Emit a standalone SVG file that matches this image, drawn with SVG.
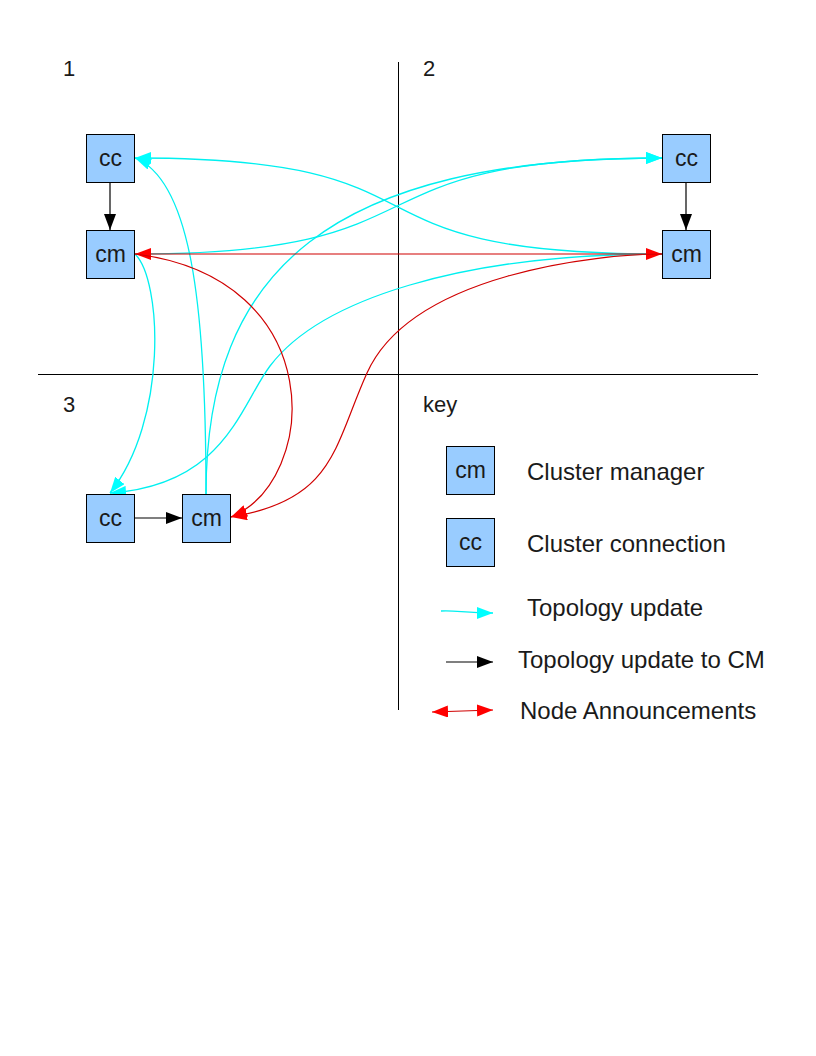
<svg xmlns="http://www.w3.org/2000/svg" width="816" height="1056" viewBox="0 0 816 1056">
<style>
.box{fill:#99ccff;stroke:#000;stroke-width:1}
.bt{font-family:"Liberation Sans",Arial,sans-serif;font-size:23px;fill:#1a1a1a;text-anchor:middle}
.lbl{font-family:"Liberation Sans",Arial,sans-serif;font-size:22px;fill:#1a1a1a}
.key{font-family:"Liberation Sans",Arial,sans-serif;font-size:24px;fill:#1a1a1a}
.cy{fill:none;stroke:#00f0f0;stroke-width:1.3;marker-end:url(#ac)}
.rd{fill:none;stroke:#d00000;stroke-width:1.2;marker-end:url(#ar)}
.bk{fill:none;stroke:#000;stroke-width:1.2;marker-end:url(#ab)}
.axis{stroke:#000;stroke-width:1}
</style>
<defs>
<marker id="ac" markerUnits="userSpaceOnUse" markerWidth="16" markerHeight="12" refX="16" refY="6" orient="auto"><path d="M0,0 L16,6 L0,12 z" fill="#00ffff"/></marker>
<marker id="ar" markerUnits="userSpaceOnUse" markerWidth="16" markerHeight="12" refX="16" refY="6" orient="auto"><path d="M0,0 L16,6 L0,12 z" fill="#ff0000"/></marker>
<marker id="ars" markerUnits="userSpaceOnUse" markerWidth="16" markerHeight="12" refX="16" refY="6" orient="auto-start-reverse"><path d="M0,0 L16,6 L0,12 z" fill="#ff0000"/></marker>
<marker id="ab" markerUnits="userSpaceOnUse" markerWidth="16" markerHeight="12" refX="16" refY="6" orient="auto"><path d="M0,0 L16,6 L0,12 z" fill="#000"/></marker>
</defs>
<rect width="816" height="1056" fill="#fff"/>
<g id="axes">
<line class="axis" x1="398.5" y1="62" x2="398.5" y2="710"/>
<line class="axis" x1="38" y1="374.5" x2="758" y2="374.5"/>
</g>
<g id="quadrant-labels">
<text class="lbl" x="63" y="76">1</text>
<text class="lbl" x="423" y="76">2</text>
<text class="lbl" x="63" y="412">3</text>
<text class="lbl" x="423" y="412">key</text>
</g>
<g id="connectors">
<path class="cy" d="M662,254 C320,254 470,158 135,158"/>
<path class="cy" d="M135,254 C460,254 333,158 662,158"/>
<path class="cy" d="M206,494 C206,270 330,158 662,158"/>
<path class="cy" d="M206,494 C206,300 190,180 135,158"/>
<path class="cy" d="M662,254 C460,254 320,300 270,366 C240,406 225,485 110,493"/>
<path class="cy" d="M135,254 C162,280 168,420 110,493"/>
<path class="rd" d="M135,254 L662,254" marker-start="url(#ars)"/>
<path class="rd" d="M135,254 C330,278 320,480 231,517"/>
<path class="rd" d="M662,254 C600,254 412,273 367,373 C334,446 335,500 231,517"/>
<path class="bk" d="M110,182 L110,230"/>
<path class="bk" d="M686,182 L686,230"/>
<path class="bk" d="M134,518 L182,518"/>
</g>
<g id="cc1"><rect class="box" x="86.5" y="134.5" width="48" height="48"/><text class="bt" x="110.5" y="166">cc</text></g>
<g id="cm1"><rect class="box" x="86.5" y="230.5" width="48" height="48"/><text class="bt" x="110.5" y="262">cm</text></g>
<g id="cc2"><rect class="box" x="662.5" y="134.5" width="48" height="48"/><text class="bt" x="686.5" y="166">cc</text></g>
<g id="cm2"><rect class="box" x="662.5" y="230.5" width="48" height="48"/><text class="bt" x="686.5" y="262">cm</text></g>
<g id="cc3"><rect class="box" x="86.5" y="494.5" width="48" height="48"/><text class="bt" x="110.5" y="526">cc</text></g>
<g id="cm3"><rect class="box" x="182.5" y="494.5" width="48" height="48"/><text class="bt" x="206.5" y="526">cm</text></g>
<g id="legend">
<g id="key-cm"><rect class="box" x="446.5" y="446.5" width="48" height="48"/><text class="bt" x="470.5" y="478">cm</text><text class="key" x="527" y="480">Cluster manager</text></g>
<g id="key-cc"><rect class="box" x="446.5" y="518.5" width="48" height="48"/><text class="bt" x="470.5" y="550">cc</text><text class="key" x="527" y="552">Cluster connection</text></g>
<g id="key-topo"><path class="cy" d="M441,611 C455,610 465,613 493,613"/><text class="key" x="527" y="616">Topology update</text></g>
<g id="key-topocm"><path class="bk" d="M446,662 L493,662"/><text class="key" x="518" y="668">Topology update to CM</text></g>
<g id="key-node"><path class="rd" d="M432,712 L493,710" marker-start="url(#ars)"/><text class="key" x="520" y="719">Node Announcements</text></g>
</g>
</svg>
